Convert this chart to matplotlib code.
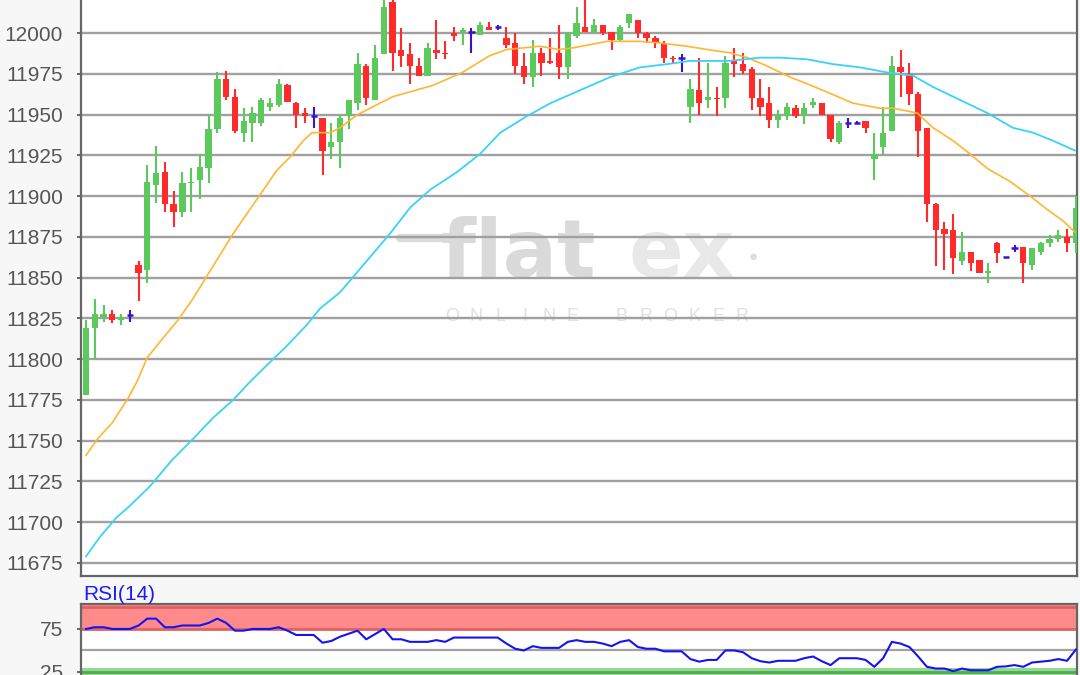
import matplotlib.pyplot as plt

plt.rcParams['font.family'] = ['Liberation Sans', 'DejaVu Sans']

# K线数据（开、高、低、收）
opens = [11778, 11819, 11826, 11828, 11824, 11827, 11858, 11855, 11907, 11915,
         11895, 11890, 11908, 11910, 11917, 11941, 11972, 11961, 11939, 11945,
         11945, 11955, 11956, 11968, 11957, 11951, 11949, 11948, 11930, 11933,
         11949, 11957, 11980, 11959, 11987, 12019, 11990, 11987, 11980, 11974,
         11990, 11988, 12000, 12001, 12001, 11999, 12004, 12004, 11997, 11994,
         11980, 11973, 11988, 11983, 11988, 11979, 11998, 12004, 12001, 12005,
         12001, 11996, 12006, 12008, 12000, 11997, 11994, 11985, 11985, 11955,
         11965, 11959, 11960.5, 11960, 11983, 11981, 11978, 11960, 11957, 11947,
         11949, 11954, 11950, 11956, 11957, 11950, 11933, 11945, 11945, 11946,
         11923, 11930, 11940, 11979, 11975, 11963, 11942, 11895, 11880, 11879,
         11860, 11866, 11861, 11853, 11871, 11863, 11868, 11869, 11858, 11866,
         11871, 11874, 11875, 11871]
highs = [11824, 11837, 11833, 11830, 11828, 11830, 11860, 11919, 11931, 11921,
         11903, 11915, 11917, 11926, 11950, 11976, 11977, 11966, 11954, 11955,
         11960, 11960, 11972, 11969, 11958, 11954, 11955, 11948, 11945, 11950,
         11959, 11988, 11981, 11993, 12021, 12021, 12003, 11994, 11985, 11994,
         12008, 11995, 12004, 12003, 12003, 12007, 12007, 12005, 12004, 12000,
         11988, 11996, 11991, 11997, 12005, 12001, 12016, 12021, 12009, 12005,
         12001, 12005, 12012, 12008, 12001, 11998, 11995, 11986, 11987, 11972,
         11985, 11982, 11967, 11986, 11991, 11988, 11979, 11972, 11967, 11953,
         11957, 11956, 11957, 11960, 11957, 11950, 11946, 11948, 11946, 11946,
         11939, 11955, 11986, 11990, 11982, 11964, 11942, 11896, 11884, 11889,
         11878, 11866, 11861, 11859, 11872, 11863, 11870, 11869, 11868, 11872,
         11876, 11879, 11880, 11900]
lows = [11778, 11800, 11823, 11822, 11821, 11823, 11836, 11847, 11896, 11890,
        11881, 11887, 11890, 11898, 11908, 11939, 11959, 11939, 11933, 11933,
        11943, 11952, 11955, 11958, 11942, 11945, 11942, 11913, 11923, 11917,
        11941, 11953, 11956, 11959, 11987, 11977, 11979, 11969, 11974, 11974,
        11984, 11984, 11995, 11993, 11988, 11999, 12002, 12002, 11991, 11975,
        11969, 11967, 11974, 11981, 11972, 11972, 11997, 12001, 12000, 11999,
        11990, 11995, 12003, 11997, 11994, 11991, 11982, 11982, 11976, 11945,
        11950, 11954, 11949, 11954, 11973, 11975, 11953, 11949, 11942, 11942,
        11947, 11948, 11944, 11954, 11950, 11933, 11932, 11942, 11944, 11939,
        11910, 11926, 11940, 11961, 11956, 11924, 11884, 11857, 11855, 11852,
        11858, 11854, 11853, 11847, 11859, 11863, 11866, 11847, 11855, 11864,
        11869, 11872, 11866, 11865]
closes = [11819, 11828, 11828, 11824, 11826, 11827, 11853, 11909, 11914, 11895,
          11890, 11908, 11909, 11918, 11941, 11972, 11961, 11940, 11946, 11951,
          11959, 11957, 11969, 11958, 11950, 11949, 11949, 11928, 11933, 11948,
          11959, 11981, 11960, 11985, 12016, 11988, 11986, 11980, 11974, 11991,
          11988, 11987, 11998, 12002, 12001, 12005, 12002, 12004, 11993, 11980,
          11973, 11988, 11982, 11982, 11979, 12000, 12006, 12001, 12005, 12000,
          11996, 12004, 12012, 12000, 11997, 11994, 11985, 11984, 11985, 11966,
          11957, 11961, 11959.5, 11982, 11981, 11977, 11960, 11955, 11947, 11950,
          11955, 11949, 11954, 11958, 11950, 11935, 11945, 11945, 11945, 11942,
          11926, 11939, 11980, 11976, 11963, 11940, 11895, 11879, 11877, 11862,
          11866, 11859, 11853, 11854, 11865, 11863, 11868, 11859, 11868, 11871,
          11874, 11876, 11871, 11893]

# 均线（橙色短期、青色长期），按K线序号取样读出
ma_short_x = [0, 1.3, 3, 4.8, 5.8, 7, 8.8, 10.5, 12.2, 13.8, 16.8, 19.5, 21.8, 23.3,
              24.8, 25.8, 27.9, 29, 31, 32.8, 35, 39.6, 43, 46, 48, 51.8, 54, 55.6,
              59.5, 63.2, 65.5, 68.6, 70.9, 73.5, 75.5, 77.7, 80.4, 82.3, 84.1, 87.6,
              90.6, 92.1, 94.9, 96.7, 99, 100.9, 102.9, 105.5, 107.8, 109.7, 111.5, 112.9]
ma_short = [11741, 11751, 11761, 11776, 11786, 11801, 11813, 11824, 11837, 11851,
            11877, 11898, 11916, 11924, 11934, 11939, 11939, 11942, 11950, 11955,
            11961, 11968, 11976, 11986, 11990, 11992, 11990, 11991, 11995, 11995,
            11994, 11992, 11990, 11988, 11985, 11980, 11973, 11969, 11965, 11957,
            11954, 11954, 11951, 11942, 11934, 11926, 11917, 11909, 11900, 11892,
            11885, 11878]
ma_long_x = [0, 1.6, 3.5, 4.8, 7.3, 9.8, 12.2, 14.5, 16.8, 18.7, 20.4, 22.9, 25.2,
             26.7, 29, 32.8, 34.7, 37, 39.3, 42.4, 45, 47.3, 50.3, 53, 56.4, 59.8,
             63.2, 66.3, 69, 73.5, 76.9, 79.2, 82.3, 85.3, 88.4, 91.4, 94.4, 96.7,
             99.8, 102.9, 105.8, 108.1, 110.4, 112.9]
ma_long = [11679, 11691, 11703, 11709, 11722, 11738, 11751, 11764, 11775, 11786,
           11795, 11808, 11821, 11831, 11841, 11865, 11877, 11893, 11904, 11915,
           11926, 11939, 11949, 11957, 11965, 11973, 11979, 11981, 11983, 11983,
           11985, 11985, 11984, 11981, 11979, 11976, 11974, 11967, 11959, 11951,
           11942, 11939, 11934, 11928]

# RSI(14) 折线拐点
rsi_x = [0, 1, 2, 3, 5, 6, 7, 8, 9, 10, 11, 13, 14, 15, 16, 17, 18, 19, 21, 22,
         23, 24, 26, 27, 28, 29, 31, 32, 33, 34, 35, 36, 37, 39, 40, 41, 42, 43,
         47, 48, 49, 50, 51, 52, 54, 55, 56, 57, 58, 59, 60, 61, 62, 63, 64, 65,
         66, 68, 69, 70, 71, 72, 73, 74, 75, 76, 77, 78, 79, 81, 82, 83, 84, 85,
         86, 88, 89, 90, 91, 92, 93, 94, 95, 96, 97, 98, 99, 100, 101, 103, 104,
         105, 106, 107, 108, 110, 111, 112, 113]
rsi = [75, 77, 77, 75, 75, 79, 87, 87, 77, 77, 79, 79, 82, 87, 82, 73, 73, 75, 75, 77,
       73, 68, 68, 59, 61, 66, 73, 63, 69, 75, 63, 63, 60, 60, 62, 60, 65, 65,
       65, 58, 52, 50, 55, 53, 53, 60, 62, 60, 60, 58, 55, 60, 62, 54, 52, 52,
       49, 49, 40, 37, 39, 39, 50, 50, 48, 41, 37.5, 36, 38, 38, 41, 43, 37.5, 33,
       41, 41, 39, 31, 41, 60, 58, 54, 43, 31, 29, 29, 26, 29, 27, 27, 31,
       31.5, 33, 31, 36, 38, 40, 38, 51]

price_ticks = [11675, 11700, 11725, 11750, 11775, 11800, 11825, 11850,
               11875, 11900, 11925, 11950, 11975, 12000, 12025]
rsi_ticks = [25, 75]

green = '#5cc95c'
red = '#ff2b2b'
blue = '#3a12cf'

fig = plt.figure(figsize=(10.8, 6.75), dpi=100)
fig.patch.set_facecolor('#f7f7f7')

# 主图
ax = fig.add_axes([0.075, 0.1467, 0.9222, 0.9007])
ax.set_facecolor('white')
ax.set_axisbelow(True)

n = len(opens)
for i in range(n):
    o, h, l, c = opens[i], highs[i], lows[i], closes[i]
    if c > o:
        col = green
    elif c < o:
        col = red
    else:
        col = blue
    ax.vlines(i, l, h, color=col, lw=1.5, zorder=3)
    if c == o:
        ax.hlines(o, i - 0.36, i + 0.36, color=col, lw=1.8, zorder=3)
    else:
        ax.bar(i, max(abs(c - o), 1.0), bottom=min(o, c), width=0.72,
               color=col, zorder=3)

ax.plot(ma_short_x, ma_short, color='#ffb630', lw=1.2, zorder=4)
ax.plot(ma_long_x, ma_long, color='#3ad2f7', lw=1.3, zorder=4)

ax.set_xlim(-0.57, 113.13)
ax.set_ylim(11667, 12040)
ax.set_yticks(price_ticks)
ax.set_yticklabels([str(t) for t in price_ticks])
ax.set_xticks([])
ax.yaxis.grid(True, color='#a0a0a0', lw=1.7)
ax.tick_params(axis='y', length=3, width=1.4, color='#666666', pad=10,
               labelsize=15, labelcolor='#555555')
for s in ['left', 'bottom', 'right']:
    ax.spines[s].set_color('#666666')
    ax.spines[s].set_linewidth(1.6)
ax.spines['top'].set_visible(False)

# 水印
def px(x, y):
    return x / 1080, 1 - y / 675

wm = dict(transform=fig.transFigure, zorder=0.2, fontsize=58,
          family='DejaVu Sans', fontweight='bold', va='baseline', ha='left')
ax.plot([px(400, 238)[0], px(455, 238)[0]], [px(400, 238)[1], px(455, 238)[1]],
        transform=fig.transFigure, color='#dadada', lw=6, solid_capstyle='round',
        zorder=0.2)
ax.text(*px(440, 277), 'flat', color='#dadada', **wm)
ax.text(*px(628, 277), 'ex', color='#e8e8e8', **wm)
ax.text(*px(753, 257), '●', color='#dcdcdc', fontsize=11, ha='center',
        va='center', transform=fig.transFigure, zorder=0.2)
for k, ch in enumerate('ONLINE BROKER'):
    ax.text(*px(452 + k * 24.2, 316), ch, color='#e0e0e0', fontsize=13,
            ha='center', va='center', transform=fig.transFigure, zorder=0.2)

# RSI 副图
ax2 = fig.add_axes([0.075, -0.0274, 0.9222, 0.1326])
ax2.set_facecolor('white')
ax2.axhspan(75, 104, color='#ff8a8a', lw=0, zorder=0.5)
ax2.axhspan(0, 30, color='#8fdc8f', lw=0, zorder=0.5)
ax2.axhline(100, color='#e06262', lw=2, zorder=0.6)
ax2.axhline(75, color='#e06262', lw=2, zorder=0.6)
ax2.axhline(25, color='#55a855', lw=2, zorder=0.6)
ax2.axhline(50, color='#a2a2a2', lw=1.6, zorder=0.6)
ax2.plot(rsi_x, rsi, color='#1414f0', lw=1.5, zorder=3)
ax2.set_xlim(-0.57, 113.13)
ax2.set_ylim(0, 104)
ax2.set_yticks(rsi_ticks)
ax2.set_yticklabels([str(t) for t in rsi_ticks])
ax2.set_xticks([])
ax2.tick_params(axis='y', length=3, width=1.4, color='#666666', pad=10,
                labelsize=15, labelcolor='#555555')
for s in ['left', 'top', 'right']:
    ax2.spines[s].set_color('#666666')
    ax2.spines[s].set_linewidth(1.6)
ax2.spines['bottom'].set_visible(False)

fig.text(83 / 1080, 1 - 600 / 675, 'RSI(14)', color='#1a1aff', fontsize=15,
         va='baseline', ha='left')

fig.savefig('out.png', dpi=100, facecolor=fig.get_facecolor())
